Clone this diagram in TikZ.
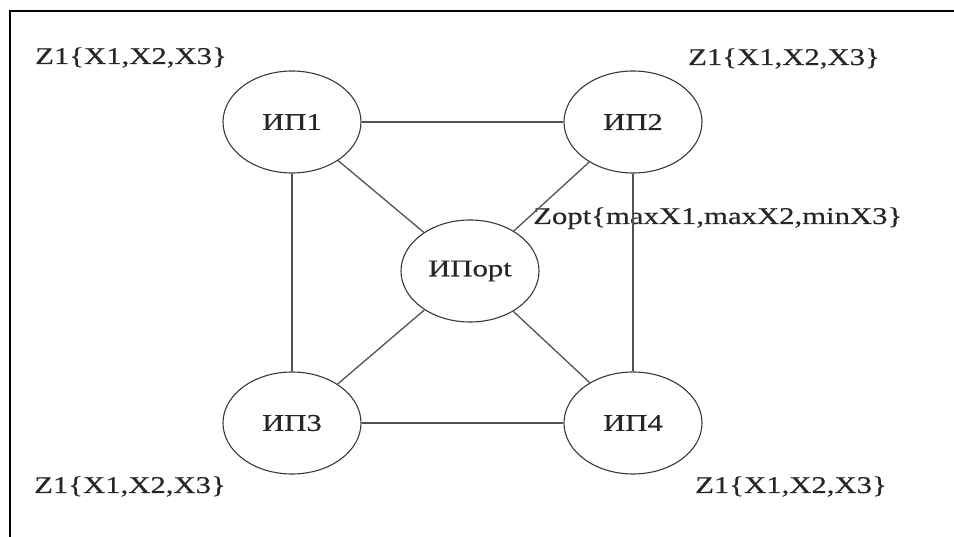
\documentclass[tikz,border=0pt]{standalone}
\usepackage{fontspec}
\setmainfont{Liberation Serif}[FakeStretch=1.28,FakeBold=0.5]
\usetikzlibrary{shapes.geometric}
\begin{document}
\begin{tikzpicture}[x=1pt,y=-1pt,
  ipnode/.style={ellipse, draw=black!78, line width=1.1pt, minimum width=138pt, minimum height=102pt, inner sep=0pt, text=black!85, font=\fontsize{24}{28}\selectfont},
  link/.style={draw=black!68, line width=1.3pt},
  lbl/.style={anchor=base west, inner sep=0pt, text=black!85, font=\fontsize{24}{28}\selectfont},
  frameline/.style={line width=2.8pt, draw=black}]
\useasboundingbox (0,0) rectangle (954,537);
\coordinate (fa) at (10,537);
\coordinate (fb) at (10,11);
\coordinate (fc) at (954,11);
\draw[frameline] (fa) -- (fb) -- (fc);

\node[ipnode] (ip1) at (292,122) {ИП1};
\node[ipnode] (ip2) at (633,122) {ИП2};
\node[ipnode] (ipo) at (470,271) {ИПopt};
\node[ipnode] (ip3) at (292,423) {ИП3};
\node[ipnode] (ip4) at (633,423) {ИП4};

\node[lbl] (l1) at (35,64) {Z1\{X1,X2,X3\}};
\node[lbl] (l2) at (688,65) {Z1\{X1,X2,X3\}};
\node[lbl] (l3) at (34,493) {Z1\{X1,X2,X3\}};
\node[lbl] (l4) at (695,493) {Z1\{X1,X2,X3\}};
\node[lbl] (lo) at (533,224) {Zopt\{maxX1,maxX2,minX3\}};

\draw[link] (ip1) -- (ip2);
\draw[link] (ip3) -- (ip4);
\draw[link] (ip1) -- (ip3);
\draw[link] (ip2) -- (ip4);
\draw[link] (ip1) -- (ipo);
\draw[link] (ip2) -- (ipo);
\draw[link] (ip3) -- (ipo);
\draw[link] (ip4) -- (ipo);
\end{tikzpicture}
\end{document}
